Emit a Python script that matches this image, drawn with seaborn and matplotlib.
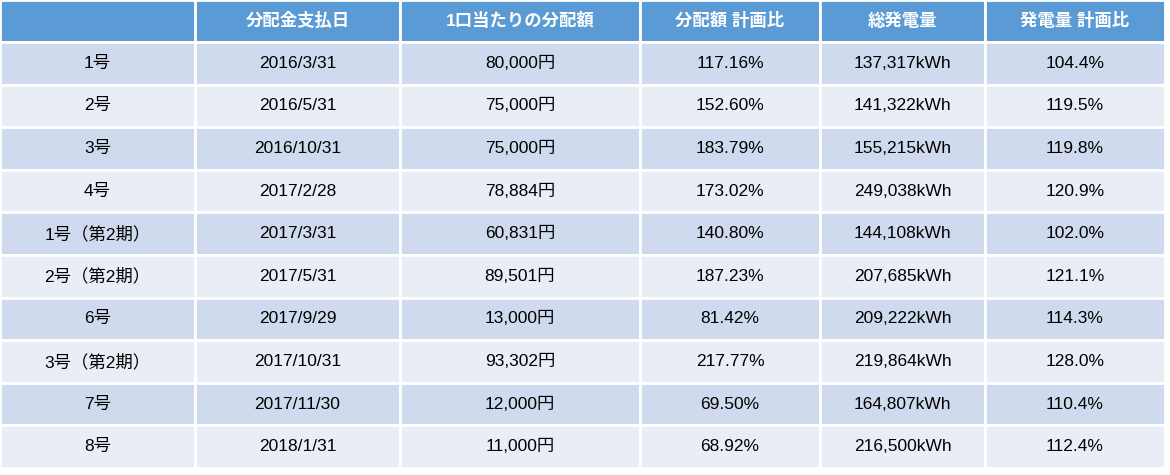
import matplotlib
matplotlib.use("Agg")
import matplotlib.pyplot as plt
import seaborn as sns
from matplotlib.patches import Rectangle

sns.set_theme(style="white")
plt.rcParams["font.family"] = ["Liberation Sans", "Noto Sans CJK JP"]

headers = ["", "分配金支払日", "1口当たりの分配額", "分配額 計画比", "総発電量", "発電量 計画比"]
funds = ["1号", "2号", "3号", "4号", "1号（第2期）", "2号（第2期）", "6号", "3号（第2期）", "7号", "8号"]
pay_dates = ["2016/3/31", "2016/5/31", "2016/10/31", "2017/2/28", "2017/3/31",
             "2017/5/31", "2017/9/29", "2017/10/31", "2017/11/30", "2018/1/31"]
dist_per_unit = ["80,000円", "75,000円", "75,000円", "78,884円", "60,831円",
                 "89,501円", "13,000円", "93,302円", "12,000円", "11,000円"]
dist_vs_plan = ["117.16%", "152.60%", "183.79%", "173.02%", "140.80%",
                "187.23%", "81.42%", "217.77%", "69.50%", "68.92%"]
generation = ["137,317kWh", "141,322kWh", "155,215kWh", "249,038kWh", "144,108kWh",
              "207,685kWh", "209,222kWh", "219,864kWh", "164,807kWh", "216,500kWh"]
gen_vs_plan = ["104.4%", "119.5%", "119.8%", "120.9%", "102.0%",
               "121.1%", "114.3%", "128.0%", "110.4%", "112.4%"]

col_edges = [0, 195, 400, 640, 820, 985, 1165]
header_h = 42
row_h = 42.6

fig = plt.figure(figsize=(11.7, 4.75), dpi=100)
ax = fig.add_axes([0, 0, 1, 1])
ax.set_xlim(0, 1170)
ax.set_ylim(475, 0)
ax.axis("off")

def cell(x0, x1, y0, h, bg, text, **kw):
    ax.add_patch(Rectangle((x0, y0), x1 - x0, h, facecolor=bg,
                           edgecolor="white", linewidth=2))
    ax.text((x0 + x1) / 2, y0 + h / 2, text, ha="center", va="center",
            fontsize=12.5, **kw)

for j, h in enumerate(headers):
    cell(col_edges[j], col_edges[j + 1], 0, header_h, "#5B9BD5", h,
         color="white", fontweight="bold")

columns = [funds, pay_dates, dist_per_unit, dist_vs_plan, generation, gen_vs_plan]
for i in range(len(funds)):
    y0 = header_h + i * row_h
    bg = "#D0DAEE" if i % 2 == 0 else "#E9EDF6"
    for j, col in enumerate(columns):
        cell(col_edges[j], col_edges[j + 1], y0, row_h, bg, col[i], color="black")

fig.savefig("out.png", dpi=100)
